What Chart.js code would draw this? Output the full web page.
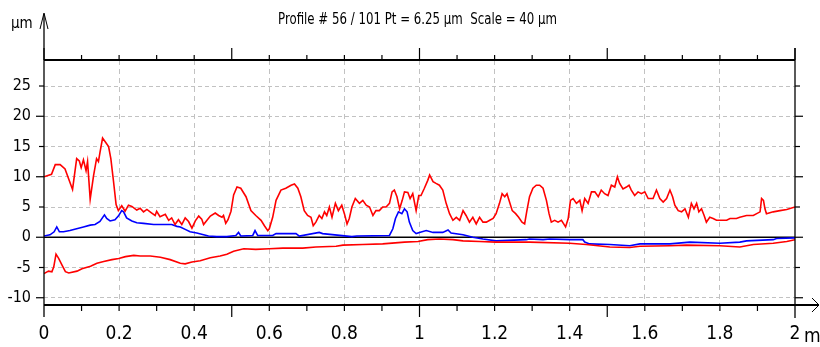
<!DOCTYPE html>
<html>
<head>
<meta charset="utf-8">
<script src="https://cdn.jsdelivr.net/npm/chart.js@4"></script>
<style>
  html, body { margin: 0; padding: 0; background: #fff; }
  #wrap { width: 820px; height: 347px; }
</style>
</head>
<body>
<div id="wrap"><canvas id="profil" width="820" height="347"></canvas></div>
<script>
// profil superieur (rouge)
const hautX = [0, 0.02, 0.03, 0.043, 0.056, 0.076, 0.087, 0.094, 0.099, 0.105, 0.112, 0.116, 0.123, 0.132, 0.14, 0.145, 0.149, 0.156, 0.163, 0.172, 0.178, 0.185, 0.192, 0.198, 0.207, 0.216, 0.225, 0.234, 0.247, 0.256, 0.265, 0.274, 0.287, 0.296, 0.3, 0.309, 0.323, 0.332, 0.34, 0.349, 0.358, 0.367, 0.376, 0.385, 0.394, 0.403, 0.412, 0.42, 0.425, 0.434, 0.443, 0.456, 0.465, 0.474, 0.478, 0.484, 0.49, 0.498, 0.505, 0.514, 0.524, 0.538, 0.551, 0.564, 0.578, 0.587, 0.596, 0.6, 0.609, 0.618, 0.631, 0.644, 0.658, 0.667, 0.676, 0.684, 0.693, 0.702, 0.711, 0.717, 0.724, 0.733, 0.74, 0.747, 0.753, 0.76, 0.767, 0.776, 0.784, 0.793, 0.8, 0.807, 0.813, 0.82, 0.829, 0.84, 0.849, 0.858, 0.867, 0.876, 0.884, 0.893, 0.902, 0.911, 0.92, 0.927, 0.933, 0.94, 0.947, 0.954, 0.96, 0.969, 0.975, 0.982, 0.991, 0.998, 1.004, 1.013, 1.022, 1.027, 1.036, 1.044, 1.053, 1.062, 1.071, 1.08, 1.089, 1.098, 1.107, 1.116, 1.124, 1.133, 1.142, 1.151, 1.16, 1.169, 1.178, 1.187, 1.196, 1.204, 1.213, 1.22, 1.227, 1.233, 1.24, 1.247, 1.256, 1.264, 1.273, 1.28, 1.286, 1.293, 1.302, 1.311, 1.32, 1.329, 1.338, 1.345, 1.351, 1.36, 1.369, 1.378, 1.384, 1.389, 1.396, 1.402, 1.409, 1.418, 1.427, 1.433, 1.44, 1.449, 1.458, 1.467, 1.476, 1.484, 1.493, 1.502, 1.511, 1.52, 1.527, 1.533, 1.542, 1.551, 1.558, 1.564, 1.573, 1.582, 1.591, 1.6, 1.609, 1.622, 1.631, 1.64, 1.649, 1.658, 1.667, 1.674, 1.68, 1.689, 1.698, 1.707, 1.716, 1.724, 1.731, 1.738, 1.744, 1.751, 1.758, 1.764, 1.773, 1.782, 1.791, 1.8, 1.818, 1.827, 1.844, 1.853, 1.871, 1.889, 1.898, 1.907, 1.911, 1.916, 1.92, 1.924, 1.942, 1.96, 1.978, 2];
const hautY = [10.0, 10.4, 12.0, 12.0, 11.3, 7.9, 13.0, 12.6, 11.5, 12.8, 11.0, 12.5, 6.3, 10.2, 13.0, 12.5, 14.0, 16.4, 15.8, 15.0, 13.0, 9.3, 5.4, 4.4, 5.2, 4.3, 5.3, 5.1, 4.5, 4.8, 4.2, 4.6, 4.0, 3.6, 4.3, 3.4, 3.8, 2.8, 3.2, 2.1, 2.9, 2.1, 3.2, 2.6, 1.5, 2.7, 3.5, 3.0, 2.1, 2.8, 3.5, 4.0, 3.6, 3.3, 3.6, 2.3, 2.9, 4.3, 7.0, 8.3, 8.1, 6.7, 4.4, 3.6, 2.8, 1.9, 1.1, 1.4, 3.3, 6.1, 7.8, 8.1, 8.6, 8.8, 8.1, 6.7, 4.4, 3.6, 3.3, 1.9, 2.5, 3.6, 3.1, 4.2, 3.6, 5.0, 3.3, 5.6, 4.4, 5.3, 3.9, 2.2, 3.1, 5.0, 6.4, 5.6, 6.1, 5.3, 5.0, 3.6, 4.4, 4.4, 5.0, 5.0, 5.6, 7.5, 7.8, 6.7, 4.7, 6.1, 7.5, 7.4, 6.4, 7.2, 4.4, 6.9, 6.9, 8.1, 9.4, 10.3, 9.2, 8.9, 8.6, 7.8, 5.6, 3.9, 2.8, 3.3, 2.8, 4.4, 3.6, 2.5, 3.3, 2.2, 3.3, 2.5, 2.5, 2.8, 3.1, 3.9, 5.6, 7.2, 6.7, 7.2, 5.8, 4.4, 3.9, 3.3, 2.5, 2.2, 4.4, 6.7, 8.1, 8.6, 8.6, 8.1, 6.1, 3.9, 2.5, 2.8, 2.5, 2.8, 2.2, 1.7, 3.1, 6.1, 6.4, 5.6, 6.1, 4.4, 6.4, 5.6, 7.5, 7.5, 6.7, 7.8, 7.2, 6.9, 8.6, 8.3, 10.0, 8.9, 8.0, 8.3, 8.6, 7.8, 6.9, 7.5, 7.2, 7.5, 6.4, 6.4, 7.8, 6.4, 5.8, 6.4, 7.8, 6.7, 5.3, 4.4, 4.2, 4.7, 3.3, 5.6, 4.7, 5.6, 4.2, 4.7, 3.6, 2.5, 3.3, 3.1, 2.8, 2.8, 2.8, 3.1, 3.1, 3.3, 3.6, 3.6, 3.9, 4.2, 6.4, 6.1, 4.7, 3.9, 4.2, 4.4, 4.6, 5.0];

// profil moyen (bleu)
const moyenX = [0, 0.016, 0.027, 0.034, 0.041, 0.052, 0.069, 0.087, 0.105, 0.123, 0.136, 0.149, 0.161, 0.167, 0.176, 0.189, 0.198, 0.207, 0.212, 0.22, 0.234, 0.247, 0.265, 0.292, 0.318, 0.34, 0.354, 0.363, 0.376, 0.389, 0.407, 0.425, 0.438, 0.46, 0.487, 0.511, 0.518, 0.524, 0.556, 0.562, 0.569, 0.609, 0.618, 0.671, 0.68, 0.733, 0.742, 0.82, 0.833, 0.92, 0.929, 0.936, 0.944, 0.953, 0.96, 0.967, 0.973, 0.982, 0.991, 1.0, 1.018, 1.036, 1.062, 1.076, 1.084, 1.116, 1.142, 1.169, 1.204, 1.284, 1.293, 1.329, 1.347, 1.4, 1.435, 1.44, 1.453, 1.507, 1.56, 1.587, 1.667, 1.72, 1.8, 1.853, 1.871, 1.942, 1.951, 2];
const moyenY = [0.2, 0.4, 0.9, 1.7, 0.9, 0.9, 1.1, 1.4, 1.7, 2.0, 2.1, 2.6, 3.7, 3.1, 2.7, 2.9, 3.5, 4.4, 4.2, 3.2, 2.7, 2.4, 2.3, 2.1, 2.1, 2.1, 1.8, 1.7, 1.3, 0.9, 0.7, 0.4, 0.2, 0.1, 0.1, 0.3, 0.8, 0.2, 0.3, 1.1, 0.3, 0.3, 0.6, 0.6, 0.2, 0.8, 0.6, 0.1, 0.2, 0.3, 1.4, 3.1, 4.2, 3.9, 4.7, 4.2, 2.5, 1.1, 0.6, 0.8, 1.1, 0.8, 0.8, 1.2, 0.7, 0.4, 0.0, -0.3, -0.6, -0.4, -0.3, -0.4, -0.3, -0.4, -0.4, -0.8, -1.1, -1.2, -1.4, -1.1, -1.1, -0.8, -1.0, -0.8, -0.6, -0.4, -0.2, -0.1];

// profil inferieur (rouge)
const basX = [0, 0.012, 0.021, 0.026, 0.032, 0.039, 0.048, 0.057, 0.066, 0.088, 0.101, 0.124, 0.141, 0.159, 0.181, 0.199, 0.217, 0.239, 0.256, 0.283, 0.31, 0.336, 0.363, 0.376, 0.394, 0.416, 0.443, 0.469, 0.487, 0.505, 0.532, 0.564, 0.6, 0.636, 0.689, 0.724, 0.778, 0.796, 0.849, 0.902, 0.96, 0.996, 1.022, 1.053, 1.089, 1.116, 1.16, 1.204, 1.293, 1.4, 1.444, 1.507, 1.56, 1.587, 1.667, 1.711, 1.8, 1.853, 1.889, 1.942, 1.978, 2];
const basY = [-6.0, -5.6, -5.7, -4.9, -2.8, -3.5, -4.6, -5.7, -5.9, -5.6, -5.2, -4.8, -4.3, -4.0, -3.7, -3.5, -3.2, -3.0, -3.1, -3.1, -3.3, -3.7, -4.3, -4.4, -4.1, -3.9, -3.4, -3.1, -2.8, -2.3, -1.9, -2.0, -1.9, -1.8, -1.8, -1.6, -1.5, -1.3, -1.2, -1.1, -0.8, -0.7, -0.4, -0.3, -0.4, -0.6, -0.7, -0.8, -0.8, -1.0, -1.2, -1.6, -1.7, -1.5, -1.4, -1.3, -1.4, -1.6, -1.2, -1.0, -0.7, -0.4];

const xTicks = [0, 0.2, 0.4, 0.6, 0.8, 1, 1.2, 1.4, 1.6, 1.8, 2];
const yTicks = [-10, -5, 0, 5, 10, 15, 20, 25];
const titre = 'Profile # 56 / 101 Pt = 6.25 \u00b5m  Scale = 40 \u00b5m';

const NARROW = '"Liberation Sans Narrow", "Arial Narrow", "DejaVu Sans Condensed", sans-serif';

const points = (xs, ys) => xs.map((v, i) => ({ x: v, y: ys[i] }));

// axes, fleches et graduations façon logiciel de profilometrie
const decor = {
  id: 'decor',
  beforeDatasetsDraw(chart) {
    const { ctx, chartArea: a, scales: { y } } = chart;
    const y0 = y.getPixelForValue(0);
    ctx.save();
    ctx.strokeStyle = '#000';
    ctx.lineWidth = 1.6;
    ctx.beginPath();
    ctx.moveTo(a.left, y0);
    ctx.lineTo(a.right, y0);
    ctx.stroke();
    ctx.restore();
  },
  afterDraw(chart) {
    const { ctx, chartArea: a, scales: { x, y } } = chart;
    const seg = (x1, y1, x2, y2) => { ctx.beginPath(); ctx.moveTo(x1, y1); ctx.lineTo(x2, y2); ctx.stroke(); };
    ctx.save();
    ctx.strokeStyle = '#000';
    ctx.lineWidth = 1.8;
    seg(a.left, a.top, a.right, a.top);
    seg(a.left, a.bottom, 819, a.bottom);
    ctx.lineWidth = 1.3;
    seg(a.left, 14, a.left, a.bottom + 12);
    seg(a.right, a.top - 12, a.right, a.bottom + 13);
    // fleche verticale
    ctx.lineWidth = 1;
    seg(a.left, 13, a.left - 4, 29);
    seg(a.left, 13, a.left + 4, 29);
    // fleche horizontale
    seg(819, a.bottom, 812, a.bottom - 7);
    seg(819, a.bottom, 812, a.bottom + 7);
    // graduations en x (pas 0.1, longues tous les 0.5)
    ctx.lineWidth = 1.2;
    for (let i = 0; i <= 20; i++) {
      const px = x.getPixelForValue(i / 10);
      const longue = i % 5 === 0;
      seg(px, a.top, px, a.top - (longue ? 12 : 5));
      if (i > 0 && i < 20) seg(px, a.bottom, px, a.bottom + (longue ? 12 : 6));
    }
    // graduations en y
    yTicks.forEach(v => {
      const py = y.getPixelForValue(v);
      const l = v % 10 === 0 ? 8 : 5;
      seg(a.left - l, py, a.left, py);
      seg(a.right, py, a.right + l, py);
    });
    // textes
    ctx.fillStyle = '#000';
    ctx.textBaseline = 'alphabetic';
    ctx.font = '15px ' + NARROW;
    ctx.textAlign = 'left';
    ctx.fillText('\u00b5m', 11, 28);
    ctx.font = '15px ' + NARROW;
    const w = ctx.measureText(titre).width;
    ctx.translate(278, 24);
    ctx.scale(279 / w, 1);
    ctx.fillText(titre, 0, 0);
    ctx.setTransform(1, 0, 0, 1, 0, 0);
    ctx.font = '19px ' + NARROW;
    ctx.fillText('mm', x.getPixelForValue(2) + 9, 342);
    ctx.restore();
  }
};

new Chart(document.getElementById('profil'), {
  type: 'line',
  data: {
    datasets: [
      { label: 'haut', data: points(hautX, hautY), borderColor: '#ff0000' },
      { label: 'bas', data: points(basX, basY), borderColor: '#ff0000' },
      { label: 'moyen', data: points(moyenX, moyenY), borderColor: '#0000ff' }
    ]
  },
  options: {
    responsive: false,
    animation: false,
    parsing: false,
    layout: { padding: { top: 60, right: 25, left: 0, bottom: 0 } },
    elements: {
      line: { borderWidth: 1.6, tension: 0 },
      point: { radius: 0 }
    },
    scales: {
      x: {
        type: 'linear',
        min: 0,
        max: 2,
        afterBuildTicks: s => { s.ticks = xTicks.map(v => ({ value: v })); },
        afterFit: s => { s.height = 42; },
        grid: {
          drawTicks: false,
          color: c => (c.tick.value === 0 || c.tick.value === 2) ? 'rgba(0,0,0,0)' : '#c2c2c2'
        },
        border: { display: false, dash: [5, 4] },
        ticks: {
          color: '#000',
          padding: 18,
          maxRotation: 0,
          font: { family: NARROW, size: 19 },
          callback: v => String(v)
        }
      },
      y: {
        type: 'linear',
        min: -11.2,
        max: 29.3,
        afterBuildTicks: s => { s.ticks = yTicks.map(v => ({ value: v })); },
        afterFit: s => { s.width = 44; },
        grid: {
          drawTicks: false,
          color: c => c.tick.value === 0 ? 'rgba(0,0,0,0)' : '#c2c2c2'
        },
        border: { display: false, dash: [4, 3] },
        ticks: {
          color: '#000',
          padding: 13,
          font: { family: NARROW, size: 16 },
          callback: v => String(v)
        }
      }
    },
    plugins: {
      legend: { display: false },
      tooltip: { enabled: false },
      title: { display: false }
    }
  },
  plugins: [decor]
});
</script>
</body>
</html>
